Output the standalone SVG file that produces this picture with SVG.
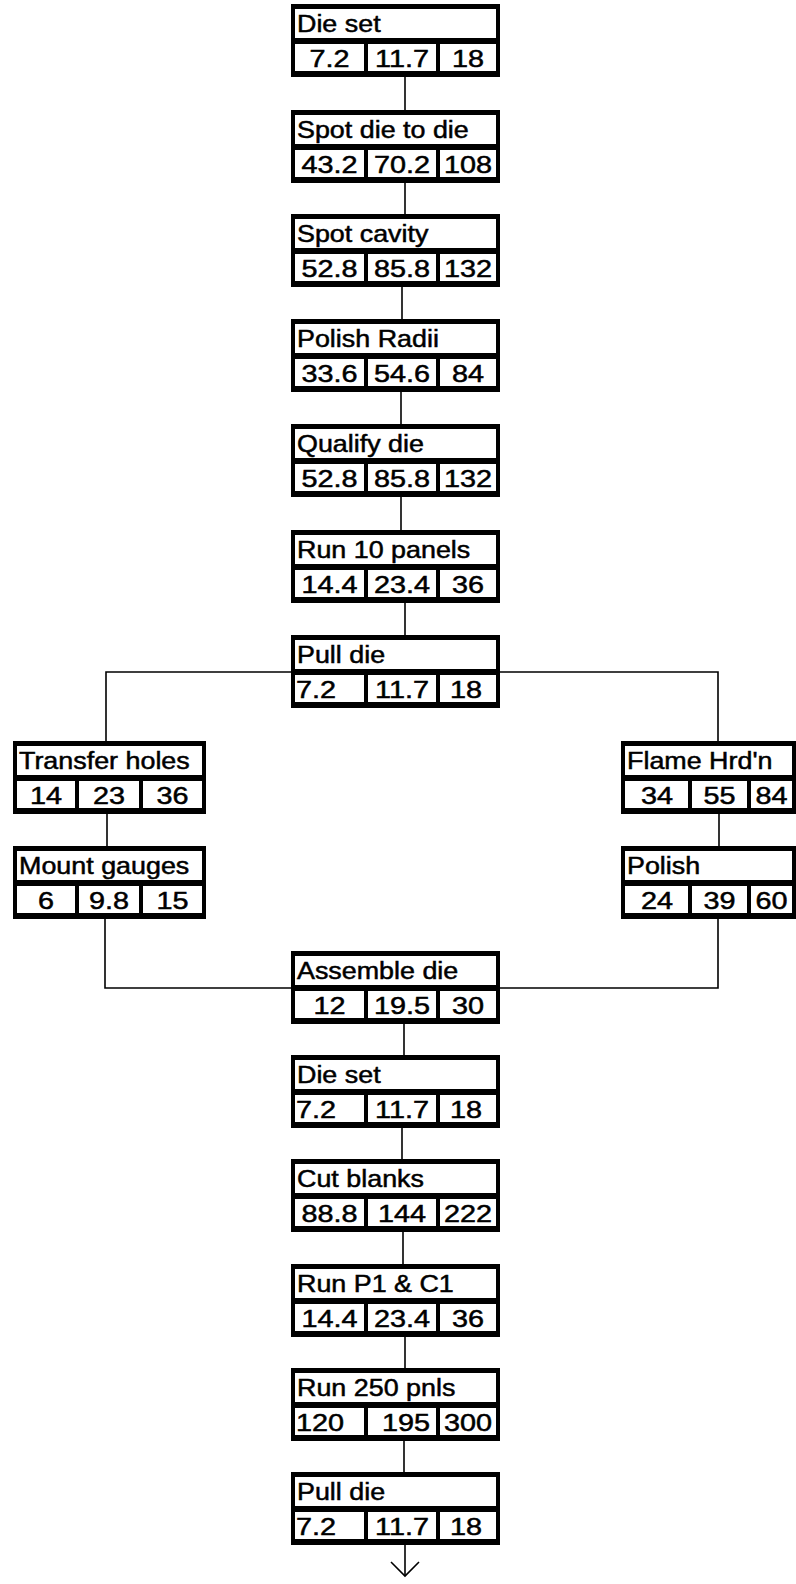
<svg xmlns="http://www.w3.org/2000/svg" width="796" height="1584" viewBox="0 0 796 1584">
<style>
.bk{fill:#000}
.wh{fill:#fff}
.t{font-family:"Liberation Sans",Arial,sans-serif;font-size:24px;fill:#000;stroke:#000;stroke-width:0.5}
.m{text-anchor:middle}
.c{stroke:#000;stroke-width:1.6;fill:none}
</style>
<defs>
<marker id="ah" viewBox="-16 -16 32 32" refX="0" refY="0" markerWidth="32" markerHeight="32" markerUnits="userSpaceOnUse" orient="auto">
<path d="M-14,-14 L0,0 L-14,14" fill="none" stroke="#000" stroke-width="1.6"/>
</marker>
</defs>
<rect width="796" height="1584" fill="#fff"/>
<g id="connectors" class="c">
<line x1="405" y1="77" x2="405" y2="110"/>
<line x1="405" y1="183" x2="405" y2="214"/>
<line x1="402" y1="287" x2="402" y2="319"/>
<line x1="401" y1="392" x2="401" y2="424"/>
<line x1="401" y1="497" x2="401" y2="530"/>
<line x1="405" y1="603" x2="405" y2="635"/>
<polyline points="106,741 106,672 718,672 718,741"/>
<line x1="107" y1="814" x2="107" y2="846"/>
<line x1="719" y1="814" x2="719" y2="846"/>
<polyline points="105,919 105,988 718,988 718,919"/>
<line x1="404" y1="1024" x2="404" y2="1055"/>
<line x1="402" y1="1128" x2="402" y2="1159"/>
<line x1="403" y1="1232" x2="403" y2="1264"/>
<line x1="405" y1="1337" x2="405" y2="1368"/>
<line x1="404" y1="1441" x2="404" y2="1472"/>
<line x1="405" y1="1545" x2="405" y2="1576" marker-end="url(#ah)"/>
</g>
<g id="n1">
<rect class="bk" x="291" y="4" width="209" height="73"/>
<rect class="wh" x="295" y="9" width="201" height="29"/>
<rect class="wh" x="295" y="44" width="69" height="27"/><rect class="wh" x="368" y="44" width="68" height="27"/><rect class="wh" x="440" y="44" width="56" height="27"/>
<text class="t" transform="translate(297 32) scale(1.12 1)">Die set</text>
<text class="t m" transform="translate(329.5 67) scale(1.2 1)">7.2</text>
<text class="t m" transform="translate(402 67) scale(1.2 1)">11.7</text>
<text class="t m" transform="translate(468 67) scale(1.2 1)">18</text>
</g>
<g id="n2">
<rect class="bk" x="291" y="110" width="209" height="73"/>
<rect class="wh" x="295" y="115" width="201" height="29"/>
<rect class="wh" x="295" y="150" width="69" height="27"/><rect class="wh" x="368" y="150" width="68" height="27"/><rect class="wh" x="440" y="150" width="56" height="27"/>
<text class="t" transform="translate(297 138) scale(1.12 1)">Spot die to die</text>
<text class="t m" transform="translate(329.5 173) scale(1.2 1)">43.2</text>
<text class="t m" transform="translate(402 173) scale(1.2 1)">70.2</text>
<text class="t m" transform="translate(468 173) scale(1.2 1)">108</text>
</g>
<g id="n3">
<rect class="bk" x="291" y="214" width="209" height="73"/>
<rect class="wh" x="295" y="219" width="201" height="29"/>
<rect class="wh" x="295" y="254" width="69" height="27"/><rect class="wh" x="368" y="254" width="68" height="27"/><rect class="wh" x="440" y="254" width="56" height="27"/>
<text class="t" transform="translate(297 242) scale(1.12 1)">Spot cavity</text>
<text class="t m" transform="translate(329.5 277) scale(1.2 1)">52.8</text>
<text class="t m" transform="translate(402 277) scale(1.2 1)">85.8</text>
<text class="t m" transform="translate(468 277) scale(1.2 1)">132</text>
</g>
<g id="n4">
<rect class="bk" x="291" y="319" width="209" height="73"/>
<rect class="wh" x="295" y="324" width="201" height="29"/>
<rect class="wh" x="295" y="359" width="69" height="27"/><rect class="wh" x="368" y="359" width="68" height="27"/><rect class="wh" x="440" y="359" width="56" height="27"/>
<text class="t" transform="translate(297 347) scale(1.12 1)">Polish Radii</text>
<text class="t m" transform="translate(329.5 382) scale(1.2 1)">33.6</text>
<text class="t m" transform="translate(402 382) scale(1.2 1)">54.6</text>
<text class="t m" transform="translate(468 382) scale(1.2 1)">84</text>
</g>
<g id="n5">
<rect class="bk" x="291" y="424" width="209" height="73"/>
<rect class="wh" x="295" y="429" width="201" height="29"/>
<rect class="wh" x="295" y="464" width="69" height="27"/><rect class="wh" x="368" y="464" width="68" height="27"/><rect class="wh" x="440" y="464" width="56" height="27"/>
<text class="t" transform="translate(297 452) scale(1.12 1)">Qualify die</text>
<text class="t m" transform="translate(329.5 487) scale(1.2 1)">52.8</text>
<text class="t m" transform="translate(402 487) scale(1.2 1)">85.8</text>
<text class="t m" transform="translate(468 487) scale(1.2 1)">132</text>
</g>
<g id="n6">
<rect class="bk" x="291" y="530" width="209" height="73"/>
<rect class="wh" x="295" y="535" width="201" height="29"/>
<rect class="wh" x="295" y="570" width="69" height="27"/><rect class="wh" x="368" y="570" width="68" height="27"/><rect class="wh" x="440" y="570" width="56" height="27"/>
<text class="t" transform="translate(297 558) scale(1.12 1)">Run 10 panels</text>
<text class="t m" transform="translate(329.5 593) scale(1.2 1)">14.4</text>
<text class="t m" transform="translate(402 593) scale(1.2 1)">23.4</text>
<text class="t m" transform="translate(468 593) scale(1.2 1)">36</text>
</g>
<g id="n7">
<rect class="bk" x="291" y="635" width="209" height="73"/>
<rect class="wh" x="295" y="640" width="201" height="29"/>
<rect class="wh" x="295" y="675" width="69" height="27"/><rect class="wh" x="368" y="675" width="68" height="27"/><rect class="wh" x="440" y="675" width="56" height="27"/>
<text class="t" transform="translate(297 663) scale(1.12 1)">Pull die</text>
<text class="t" transform="translate(296 698) scale(1.2 1)">7.2</text>
<text class="t m" transform="translate(402 698) scale(1.2 1)">11.7</text>
<text class="t m" transform="translate(466 698) scale(1.2 1)">18</text>
</g>
<g id="n8">
<rect class="bk" x="13" y="741" width="193" height="73"/>
<rect class="wh" x="17" y="746" width="185" height="29"/>
<rect class="wh" x="17" y="781" width="58" height="27"/><rect class="wh" x="79" y="781" width="60" height="27"/><rect class="wh" x="143" y="781" width="59" height="27"/>
<text class="t" transform="translate(19 769) scale(1.12 1)">Transfer holes</text>
<text class="t m" transform="translate(46 804) scale(1.2 1)">14</text>
<text class="t m" transform="translate(109 804) scale(1.2 1)">23</text>
<text class="t m" transform="translate(172.5 804) scale(1.2 1)">36</text>
</g>
<g id="n9">
<rect class="bk" x="621" y="741" width="175" height="73"/>
<rect class="wh" x="625" y="746" width="167" height="29"/>
<rect class="wh" x="625" y="781" width="63" height="27"/><rect class="wh" x="692" y="781" width="55" height="27"/><rect class="wh" x="751" y="781" width="41" height="27"/>
<text class="t" transform="translate(627 769) scale(1.12 1)">Flame Hrd'n</text>
<text class="t m" transform="translate(657 804) scale(1.2 1)">34</text>
<text class="t m" transform="translate(719.5 804) scale(1.2 1)">55</text>
<text class="t m" transform="translate(771.5 804) scale(1.2 1)">84</text>
</g>
<g id="n10">
<rect class="bk" x="13" y="846" width="193" height="73"/>
<rect class="wh" x="17" y="851" width="185" height="29"/>
<rect class="wh" x="17" y="886" width="58" height="27"/><rect class="wh" x="79" y="886" width="60" height="27"/><rect class="wh" x="143" y="886" width="59" height="27"/>
<text class="t" transform="translate(19 874) scale(1.12 1)">Mount gauges</text>
<text class="t m" transform="translate(46 909) scale(1.2 1)">6</text>
<text class="t m" transform="translate(109 909) scale(1.2 1)">9.8</text>
<text class="t m" transform="translate(172.5 909) scale(1.2 1)">15</text>
</g>
<g id="n11">
<rect class="bk" x="621" y="846" width="175" height="73"/>
<rect class="wh" x="625" y="851" width="167" height="29"/>
<rect class="wh" x="625" y="886" width="63" height="27"/><rect class="wh" x="692" y="886" width="55" height="27"/><rect class="wh" x="751" y="886" width="41" height="27"/>
<text class="t" transform="translate(627 874) scale(1.12 1)">Polish</text>
<text class="t m" transform="translate(657 909) scale(1.2 1)">24</text>
<text class="t m" transform="translate(719.5 909) scale(1.2 1)">39</text>
<text class="t m" transform="translate(771.5 909) scale(1.2 1)">60</text>
</g>
<g id="n12">
<rect class="bk" x="291" y="951" width="209" height="73"/>
<rect class="wh" x="295" y="956" width="201" height="29"/>
<rect class="wh" x="295" y="991" width="69" height="27"/><rect class="wh" x="368" y="991" width="68" height="27"/><rect class="wh" x="440" y="991" width="56" height="27"/>
<text class="t" transform="translate(297 979) scale(1.12 1)">Assemble die</text>
<text class="t m" transform="translate(329.5 1014) scale(1.2 1)">12</text>
<text class="t m" transform="translate(402 1014) scale(1.2 1)">19.5</text>
<text class="t m" transform="translate(468 1014) scale(1.2 1)">30</text>
</g>
<g id="n13">
<rect class="bk" x="291" y="1055" width="209" height="73"/>
<rect class="wh" x="295" y="1060" width="201" height="29"/>
<rect class="wh" x="295" y="1095" width="69" height="27"/><rect class="wh" x="368" y="1095" width="68" height="27"/><rect class="wh" x="440" y="1095" width="56" height="27"/>
<text class="t" transform="translate(297 1083) scale(1.12 1)">Die set</text>
<text class="t" transform="translate(296 1118) scale(1.2 1)">7.2</text>
<text class="t m" transform="translate(402 1118) scale(1.2 1)">11.7</text>
<text class="t m" transform="translate(466 1118) scale(1.2 1)">18</text>
</g>
<g id="n14">
<rect class="bk" x="291" y="1159" width="209" height="73"/>
<rect class="wh" x="295" y="1164" width="201" height="29"/>
<rect class="wh" x="295" y="1199" width="69" height="27"/><rect class="wh" x="368" y="1199" width="68" height="27"/><rect class="wh" x="440" y="1199" width="56" height="27"/>
<text class="t" transform="translate(297 1187) scale(1.12 1)">Cut blanks</text>
<text class="t m" transform="translate(329.5 1222) scale(1.2 1)">88.8</text>
<text class="t m" transform="translate(402 1222) scale(1.2 1)">144</text>
<text class="t m" transform="translate(468 1222) scale(1.2 1)">222</text>
</g>
<g id="n15">
<rect class="bk" x="291" y="1264" width="209" height="73"/>
<rect class="wh" x="295" y="1269" width="201" height="29"/>
<rect class="wh" x="295" y="1304" width="69" height="27"/><rect class="wh" x="368" y="1304" width="68" height="27"/><rect class="wh" x="440" y="1304" width="56" height="27"/>
<text class="t" transform="translate(297 1292) scale(1.12 1)">Run P1 &amp; C1</text>
<text class="t m" transform="translate(329.5 1327) scale(1.2 1)">14.4</text>
<text class="t m" transform="translate(402 1327) scale(1.2 1)">23.4</text>
<text class="t m" transform="translate(468 1327) scale(1.2 1)">36</text>
</g>
<g id="n16">
<rect class="bk" x="291" y="1368" width="209" height="73"/>
<rect class="wh" x="295" y="1373" width="201" height="29"/>
<rect class="wh" x="295" y="1408" width="69" height="27"/><rect class="wh" x="368" y="1408" width="68" height="27"/><rect class="wh" x="440" y="1408" width="56" height="27"/>
<text class="t" transform="translate(297 1396) scale(1.12 1)">Run 250 pnls</text>
<text class="t" transform="translate(296 1431) scale(1.2 1)">120</text>
<text class="t m" transform="translate(406 1431) scale(1.2 1)">195</text>
<text class="t m" transform="translate(468 1431) scale(1.2 1)">300</text>
</g>
<g id="n17">
<rect class="bk" x="291" y="1472" width="209" height="73"/>
<rect class="wh" x="295" y="1477" width="201" height="29"/>
<rect class="wh" x="295" y="1512" width="69" height="27"/><rect class="wh" x="368" y="1512" width="68" height="27"/><rect class="wh" x="440" y="1512" width="56" height="27"/>
<text class="t" transform="translate(297 1500) scale(1.12 1)">Pull die</text>
<text class="t" transform="translate(296 1535) scale(1.2 1)">7.2</text>
<text class="t m" transform="translate(402 1535) scale(1.2 1)">11.7</text>
<text class="t m" transform="translate(466 1535) scale(1.2 1)">18</text>
</g>
</svg>
